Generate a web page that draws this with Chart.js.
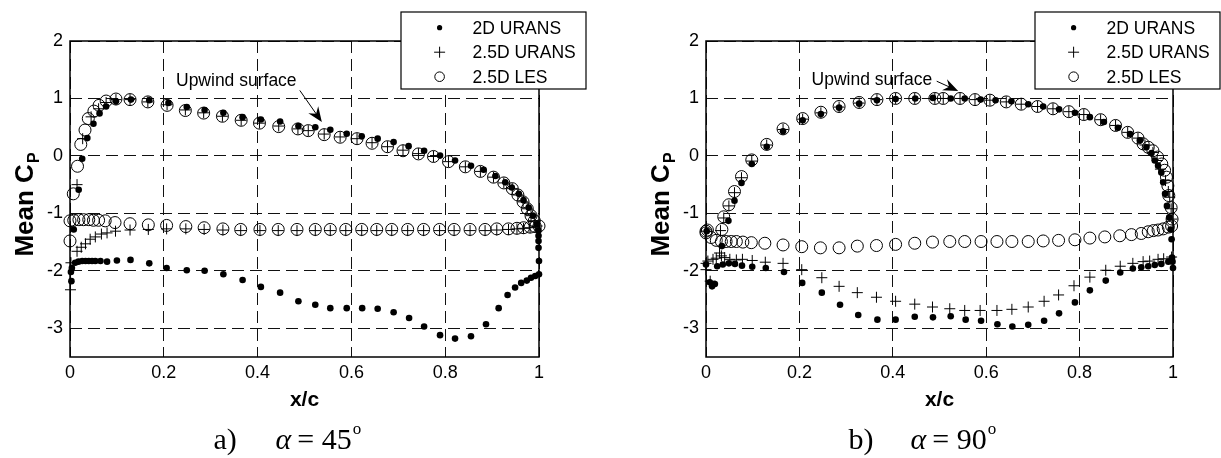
<!DOCTYPE html>
<html>
<head>
<meta charset="utf-8">
<title>Mean Cp distributions</title>
<script src="https://cdn.jsdelivr.net/npm/chart.js@4.4.1/dist/chart.umd.min.js"></script>
<style>
  body { margin: 0; background: #fff; }
  #wrap { position: relative; width: 1221px; height: 458px; }
  canvas { position: absolute; top: 0; }
  #cp45 { left: 0; }
  #cp90 { left: 610px; }
</style>
</head>
<body>
<div id="wrap">
  <canvas id="cp45" width="610" height="458"></canvas>
  <canvas id="cp90" width="611" height="458"></canvas>
</div>
<script>
const SANS = '"Liberation Sans", Arial, Helvetica, sans-serif';
const SERIF = '"Liberation Serif", "Times New Roman", serif';

const xTickValues = [0, 0.2, 0.4, 0.6, 0.8, 1];
const yTickValues = [2, 1, 0, -1, -2, -3];
const seriesNames = ['2D URANS', '2.5D URANS', '2.5D LES'];

// ---- alpha = 45 deg : upper surface first, then lower surface ----
const x45Urans2d = [0.008, 0.0185, 0.026, 0.037, 0.050, 0.063, 0.077, 0.098, 0.130, 0.169, 0.210, 0.249, 0.287, 0.327, 0.368, 0.407, 0.448, 0.487, 0.523, 0.555, 0.590, 0.622, 0.656, 0.690, 0.722, 0.755, 0.789, 0.821, 0.855, 0.882, 0.907, 0.928, 0.942, 0.957, 0.967, 0.978, 0.987, 0.996,
  0.999, 0.999, 0.999, 0.999, 1.0, 1.0, 0.992, 0.983, 0.974, 0.962, 0.949, 0.933, 0.914, 0.887, 0.855, 0.821, 0.789, 0.755, 0.723, 0.690, 0.656, 0.623, 0.590, 0.555, 0.523, 0.487, 0.448, 0.407, 0.368, 0.327, 0.287, 0.249, 0.206, 0.169, 0.129, 0.100, 0.079, 0.065, 0.054, 0.047, 0.040, 0.033, 0.026, 0.018, 0.011, 0.004, 0.002, 0.003];
const cp45Urans2d = [-1.28, -0.59, -0.05, 0.31, 0.56, 0.74, 0.86, 0.95, 0.98, 0.97, 0.92, 0.85, 0.80, 0.75, 0.675, 0.635, 0.60, 0.52, 0.50, 0.455, 0.385, 0.34, 0.30, 0.24, 0.17, 0.09, 0.005, -0.08, -0.17, -0.24, -0.35, -0.46, -0.55, -0.66, -0.77, -0.90, -1.04, -1.19,
  -1.30, -1.39, -1.48, -1.60, -1.83, -2.06, -2.09, -2.12, -2.17, -2.21, -2.29, -2.42, -2.65, -2.93, -3.14, -3.18, -3.12, -2.97, -2.82, -2.72, -2.66, -2.65, -2.65, -2.65, -2.59, -2.53, -2.38, -2.28, -2.16, -2.06, -2.00, -1.99, -1.95, -1.87, -1.81, -1.82, -1.84, -1.83, -1.83, -1.83, -1.83, -1.83, -1.83, -1.84, -1.86, -1.95, -2.02, -2.18];

const x45Urans25d = [0.015, 0.027, 0.045, 0.061, 0.077, 0.098, 0.128, 0.166, 0.207, 0.246, 0.285, 0.325, 0.365, 0.404, 0.445, 0.486, 0.508, 0.542, 0.576, 0.612, 0.644, 0.677, 0.710, 0.743, 0.775, 0.807, 0.843, 0.875, 0.903, 0.925, 0.943, 0.955, 0.966, 0.975, 0.983, 0.990,
  0.996, 0.992, 0.981, 0.967, 0.953, 0.935, 0.910, 0.885, 0.853, 0.819, 0.788, 0.754, 0.720, 0.686, 0.654, 0.622, 0.588, 0.555, 0.523, 0.484, 0.444, 0.405, 0.364, 0.326, 0.286, 0.247, 0.206, 0.167, 0.128, 0.097, 0.079, 0.067, 0.054, 0.043, 0.033, 0.024, 0.015, 0.002, 0.001];
const cp45Urans25d = [-0.50, 0.30, 0.68, 0.82, 0.93, 0.98, 0.98, 0.94, 0.89, 0.80, 0.75, 0.69, 0.62, 0.57, 0.52, 0.47, 0.44, 0.38, 0.33, 0.30, 0.23, 0.16, 0.10, 0.04, -0.01, -0.10, -0.19, -0.27, -0.37, -0.47, -0.57, -0.68, -0.80, -0.92, -1.04, -1.13,
  -1.22, -1.24, -1.25, -1.26, -1.27, -1.28, -1.29, -1.30, -1.30, -1.30, -1.30, -1.30, -1.30, -1.30, -1.30, -1.30, -1.30, -1.30, -1.30, -1.30, -1.30, -1.30, -1.30, -1.29, -1.28, -1.27, -1.27, -1.28, -1.29, -1.31, -1.34, -1.36, -1.41, -1.45, -1.53, -1.59, -1.66, -1.86, -2.33];

const x45Les = [0.007, 0.016, 0.023, 0.032, 0.039, 0.051, 0.062, 0.077, 0.098, 0.128, 0.166, 0.207, 0.246, 0.285, 0.325, 0.365, 0.404, 0.445, 0.486, 0.508, 0.542, 0.576, 0.612, 0.644, 0.677, 0.710, 0.743, 0.775, 0.807, 0.843, 0.875, 0.903, 0.925, 0.943, 0.955, 0.966, 0.975, 0.983, 0.990,
  1.0, 0.992, 0.981, 0.967, 0.953, 0.935, 0.910, 0.885, 0.853, 0.819, 0.788, 0.754, 0.720, 0.686, 0.654, 0.622, 0.588, 0.555, 0.523, 0.484, 0.444, 0.405, 0.364, 0.326, 0.286, 0.247, 0.206, 0.167, 0.128, 0.096, 0.075, 0.061, 0.050, 0.040, 0.029, 0.019, 0.008, 0.0, 0.0];
const cp45Les = [-0.66, -0.18, 0.20, 0.45, 0.65, 0.78, 0.88, 0.955, 0.99, 0.98, 0.94, 0.88, 0.79, 0.745, 0.69, 0.62, 0.57, 0.51, 0.47, 0.44, 0.37, 0.325, 0.30, 0.22, 0.16, 0.09, 0.035, -0.01, -0.10, -0.19, -0.27, -0.37, -0.47, -0.57, -0.68, -0.80, -0.92, -1.04, -1.13,
  -1.22, -1.23, -1.24, -1.25, -1.26, -1.27, -1.27, -1.28, -1.28, -1.28, -1.28, -1.28, -1.28, -1.28, -1.28, -1.28, -1.28, -1.28, -1.28, -1.28, -1.28, -1.28, -1.28, -1.27, -1.25, -1.23, -1.21, -1.20, -1.18, -1.16, -1.13, -1.12, -1.12, -1.11, -1.11, -1.11, -1.12, -1.13, -1.48];

// ---- alpha = 90 deg ----
const x90Urans2d = [0.0015, 0.034, 0.048, 0.061, 0.076, 0.098, 0.130, 0.165, 0.207, 0.246, 0.285, 0.328, 0.366, 0.406, 0.448, 0.486, 0.524, 0.554, 0.588, 0.620, 0.654, 0.690, 0.722, 0.756, 0.790, 0.822, 0.852, 0.882, 0.908, 0.929, 0.943, 0.954, 0.961, 0.968, 0.975, 0.979, 0.983, 0.987, 0.992, 0.995, 0.997,
  0.998, 0.999, 1.0, 0.990, 0.975, 0.961, 0.947, 0.932, 0.914, 0.887, 0.856, 0.822, 0.790, 0.756, 0.724, 0.690, 0.656, 0.624, 0.589, 0.556, 0.524, 0.486, 0.447, 0.406, 0.367, 0.326, 0.287, 0.248, 0.206, 0.167, 0.128, 0.099, 0.077, 0.062, 0.049, 0.036, 0.024, 0.019, 0.013, 0.008, 0.0];
const cp90Urans2d = [-1.31, -1.57, -1.13, -0.78, -0.47, -0.14, 0.16, 0.43, 0.62, 0.73, 0.84, 0.91, 0.97, 0.99, 1.00, 1.01, 1.00, 1.00, 0.98, 0.97, 0.95, 0.90, 0.86, 0.81, 0.75, 0.675, 0.59, 0.49, 0.38, 0.27, 0.15, 0.05, -0.08, -0.17, -0.29, -0.46, -0.66, -0.87, -1.07, -1.28, -1.45,
  -1.77, -1.84, -1.95, -1.84, -1.88, -1.90, -1.92, -1.94, -1.96, -2.03, -2.17, -2.34, -2.55, -2.74, -2.87, -2.94, -2.97, -2.93, -2.87, -2.85, -2.79, -2.81, -2.80, -2.85, -2.85, -2.77, -2.59, -2.38, -2.21, -2.02, -1.95, -1.93, -1.91, -1.88, -1.87, -1.89, -1.92, -2.23, -2.27, -2.20, -1.89];

const x90Urans25d = [0.0, 0.031, 0.038, 0.049, 0.061, 0.076, 0.098, 0.130, 0.165, 0.207, 0.246, 0.285, 0.328, 0.366, 0.406, 0.447, 0.490, 0.508, 0.544, 0.576, 0.608, 0.643, 0.675, 0.710, 0.743, 0.777, 0.809, 0.845, 0.877, 0.903, 0.925, 0.940, 0.957, 0.966, 0.973, 0.984, 0.990, 0.993, 0.996, 0.998,
  0.997, 0.980, 0.968, 0.950, 0.936, 0.914, 0.887, 0.856, 0.822, 0.788, 0.755, 0.724, 0.690, 0.655, 0.623, 0.587, 0.554, 0.522, 0.485, 0.447, 0.406, 0.365, 0.324, 0.285, 0.248, 0.205, 0.165, 0.127, 0.099, 0.078, 0.065, 0.051, 0.040, 0.033, 0.029, 0.022, 0.015, 0.004, 0.0, 0.0, 0.009];
const cp90Urans25d = [-1.31, -1.30, -1.08, -0.87, -0.64, -0.38, -0.09, 0.19, 0.46, 0.64, 0.75, 0.85, 0.92, 0.98, 1.00, 1.00, 1.00, 1.00, 1.00, 0.98, 0.97, 0.94, 0.90, 0.86, 0.82, 0.77, 0.72, 0.63, 0.53, 0.41, 0.31, 0.19, 0.06, -0.08, -0.23, -0.43, -0.62, -0.72, -0.92, -1.10,
  -1.76, -1.79, -1.80, -1.83, -1.84, -1.87, -1.92, -1.99, -2.11, -2.26, -2.42, -2.53, -2.63, -2.67, -2.69, -2.69, -2.69, -2.66, -2.63, -2.58, -2.53, -2.46, -2.38, -2.27, -2.12, -1.98, -1.87, -1.85, -1.82, -1.80, -1.81, -1.80, -1.77, -1.74, -1.69, -1.78, -1.80, -1.83, -1.87, -1.98, -2.18];

const x90Les = [0.0, 0.003, 0.034, 0.038, 0.049, 0.061, 0.076, 0.098, 0.130, 0.165, 0.207, 0.246, 0.285, 0.328, 0.366, 0.406, 0.447, 0.490, 0.508, 0.544, 0.576, 0.608, 0.643, 0.675, 0.710, 0.743, 0.777, 0.809, 0.845, 0.877, 0.903, 0.925, 0.936, 0.947, 0.957, 0.967, 0.976, 0.982, 0.986, 0.989, 0.991, 0.996, 0.998,
  0.997, 0.990, 0.979, 0.968, 0.958, 0.947, 0.932, 0.911, 0.886, 0.854, 0.822, 0.790, 0.755, 0.722, 0.690, 0.655, 0.623, 0.589, 0.554, 0.522, 0.485, 0.447, 0.406, 0.365, 0.324, 0.285, 0.245, 0.205, 0.165, 0.126, 0.097, 0.079, 0.065, 0.054, 0.043, 0.033, 0.022, 0.011, 0.0];
const cp90Les = [-1.31, -1.29, -1.28, -1.06, -0.85, -0.62, -0.36, -0.07, 0.20, 0.47, 0.65, 0.76, 0.86, 0.93, 0.98, 1.00, 1.00, 1.00, 1.00, 1.00, 0.98, 0.97, 0.94, 0.90, 0.86, 0.82, 0.77, 0.72, 0.63, 0.53, 0.41, 0.31, 0.21, 0.15, 0.09, -0.02, -0.14, -0.25, -0.37, -0.52, -0.69, -0.90, -1.10,
  -1.22, -1.24, -1.27, -1.29, -1.30, -1.32, -1.35, -1.37, -1.39, -1.41, -1.43, -1.46, -1.47, -1.48, -1.49, -1.49, -1.49, -1.49, -1.49, -1.49, -1.50, -1.52, -1.54, -1.56, -1.57, -1.60, -1.60, -1.58, -1.55, -1.52, -1.51, -1.50, -1.49, -1.49, -1.49, -1.49, -1.47, -1.42, -1.34];

function pts(xs, ys) {
  return xs.map((x, i) => ({ x: x, y: ys[i] }));
}

// marker look for each of the three series (dot, plus, open circle)
const markerStyles = [
  { pointStyle: 'circle', pointRadius: 3.3, backgroundColor: '#000', borderColor: '#000', borderWidth: 0, legendRadius: 2.6 },
  { pointStyle: 'cross', pointRadius: 5.5, backgroundColor: '#000', borderColor: '#000', borderWidth: 1, legendRadius: 5.5 },
  { pointStyle: 'circle', pointRadius: 6, backgroundColor: 'rgba(0,0,0,0)', borderColor: '#000', borderWidth: 1, legendRadius: 4.8 }
];

// frame, legend box, y label, arrow note and sub-figure caption
const decor = {
  id: 'decor',
  afterDraw(chart, args, o) {
    const ctx = chart.ctx, a = chart.chartArea;
    const xs = chart.scales.x, ys = chart.scales.y;
    ctx.save();

    ctx.strokeStyle = '#000';
    ctx.lineWidth = 1.5;
    ctx.strokeRect(a.left, a.top, a.right - a.left, a.bottom - a.top);

    // note with arrow
    ctx.fillStyle = '#000';
    ctx.font = '17.5px ' + SANS;
    ctx.textAlign = 'left';
    ctx.textBaseline = 'middle';
    ctx.fillText(o.note, xs.getPixelForValue(o.noteAt[0]), ys.getPixelForValue(o.noteAt[1]));
    const x0 = xs.getPixelForValue(o.arrow[0]), y0 = ys.getPixelForValue(o.arrow[1]);
    const x1 = xs.getPixelForValue(o.arrow[2]), y1 = ys.getPixelForValue(o.arrow[3]);
    const ang = Math.atan2(y1 - y0, x1 - x0);
    ctx.lineWidth = 1;
    ctx.beginPath();
    ctx.moveTo(x0, y0);
    ctx.lineTo(x1 - 9 * Math.cos(ang), y1 - 9 * Math.sin(ang));
    ctx.stroke();
    ctx.save();
    ctx.translate(x1, y1);
    ctx.rotate(ang);
    ctx.beginPath();
    ctx.moveTo(0, 0);
    ctx.lineTo(-15, -6);
    ctx.lineTo(-10, 0);
    ctx.lineTo(-15, 6);
    ctx.closePath();
    ctx.fill();
    ctx.restore();

    // legend box
    const bw = 185, bh = 77;
    const bx = a.right + 47 - bw, by = 12;
    ctx.fillStyle = '#fff';
    ctx.fillRect(bx, by, bw, bh);
    ctx.strokeStyle = '#000';
    ctx.lineWidth = 1.2;
    ctx.strokeRect(bx, by, bw, bh);
    chart.data.datasets.forEach((ds, i) => {
      const cy = by + 15.7 + i * 24.5, sx = bx + 38.6, r = ds.legendRadius;
      ctx.lineWidth = 1;
      ctx.strokeStyle = '#000';
      ctx.fillStyle = '#000';
      ctx.beginPath();
      if (ds.pointStyle === 'cross') {
        ctx.moveTo(sx - r, cy); ctx.lineTo(sx + r, cy);
        ctx.moveTo(sx, cy - r); ctx.lineTo(sx, cy + r);
        ctx.stroke();
      } else {
        ctx.arc(sx, cy, r, 0, Math.PI * 2);
        if (ds.borderWidth > 0) ctx.stroke(); else ctx.fill();
      }
      ctx.font = '17.5px ' + SANS;
      ctx.textAlign = 'left';
      ctx.textBaseline = 'middle';
      ctx.fillText(ds.label, bx + 71.6, cy + 1);
    });

    // y axis label: Mean C with subscript P
    ctx.save();
    ctx.translate(a.left - 37, (a.top + a.bottom) / 2 + 6);
    ctx.rotate(-Math.PI / 2);
    ctx.fillStyle = '#000';
    ctx.textAlign = 'left';
    ctx.textBaseline = 'alphabetic';
    ctx.font = 'bold 26px ' + SANS;
    const w1 = ctx.measureText('Mean C').width;
    ctx.font = 'bold 16px ' + SANS;
    const w2 = ctx.measureText('P').width;
    const sx0 = -(w1 + w2) / 2;
    ctx.font = 'bold 26px ' + SANS;
    ctx.fillText('Mean C', sx0, 0);
    ctx.font = 'bold 16px ' + SANS;
    ctx.fillText('P', sx0 + w1 + 1, 6);
    ctx.restore();

    // caption under the panel
    const base = 449;
    let cx = (a.left + a.right) / 2 - 91;
    ctx.fillStyle = '#000';
    ctx.textAlign = 'left';
    ctx.textBaseline = 'alphabetic';
    ctx.font = '30px ' + SERIF;
    ctx.fillText(o.panel, cx, base);
    cx += 62;
    ctx.font = 'italic 30px ' + SERIF;
    ctx.fillText('\u03b1', cx, base);
    cx += ctx.measureText('\u03b1').width + 6;
    ctx.font = '30px ' + SERIF;
    ctx.fillText('= ' + o.angle, cx, base);
    cx += ctx.measureText('= ' + o.angle).width + 1;
    ctx.font = '17px ' + SERIF;
    ctx.fillText('o', cx, base - 15);

    ctx.restore();
  }
};

function makeChart(id, sets, deco) {
  return new Chart(document.getElementById(id), {
    type: 'scatter',
    data: {
      datasets: sets.map((s, i) => Object.assign({ label: seriesNames[i], data: s, clip: false }, markerStyles[i]))
    },
    options: {
      responsive: false,
      animation: false,
      events: [],
      layout: { padding: { left: 0, right: deco.padRight, top: 41, bottom: 0 } },
      scales: {
        x: {
          type: 'linear',
          min: 0,
          max: 1,
          afterFit: s => { s.height = 101; },
          afterBuildTicks: s => { s.ticks = xTickValues.map(v => ({ value: v })); },
          ticks: {
            padding: 5,
            color: '#000',
            font: { family: SANS, size: 18 },
            callback: v => String(Math.round(v * 10) / 10)
          },
          grid: { color: '#111', lineWidth: 1, drawTicks: false },
          border: { display: false, dash: [12, 6] },
          title: {
            display: true,
            text: 'x/c',
            color: '#000',
            font: { family: SANS, size: 21, weight: 'bold' },
            padding: { top: 0, bottom: 45 }
          }
        },
        y: {
          type: 'linear',
          min: -3.5,
          max: 2,
          afterFit: s => { s.width = deco.axisWidth; },
          afterBuildTicks: s => { s.ticks = yTickValues.map(v => ({ value: v })); },
          ticks: {
            padding: 7,
            color: '#000',
            font: { family: SANS, size: 18 },
            callback: v => String(v)
          },
          grid: { color: '#111', lineWidth: 1, drawTicks: false },
          border: { display: false, dash: [12, 6] }
        }
      },
      plugins: {
        legend: { display: false },
        tooltip: { enabled: false },
        decor: deco
      }
    },
    plugins: [decor]
  });
}

makeChart('cp45', [pts(x45Urans2d, cp45Urans2d), pts(x45Urans25d, cp45Urans25d), pts(x45Les, cp45Les)], {
  padRight: 71, axisWidth: 70,
  note: 'Upwind surface', noteAt: [0.226, 1.30], arrow: [0.49, 1.14, 0.537, 0.59],
  panel: 'a)', angle: '45'
});

makeChart('cp90', [pts(x90Urans2d, cp90Urans2d), pts(x90Urans25d, cp90Urans25d), pts(x90Les, cp90Les)], {
  padRight: 48, axisWidth: 96,
  note: 'Upwind surface', noteAt: [0.226, 1.32], arrow: [0.494, 1.30, 0.540, 1.13],
  panel: 'b)', angle: '90'
});
</script>
</body>
</html>
